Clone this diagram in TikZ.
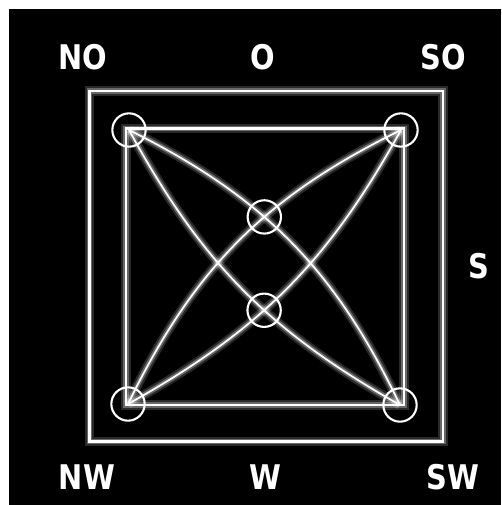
\documentclass[tikz,border=0pt]{standalone}
\usepackage{fontspec}
\newfontfamily\tagfont[FakeStretch=0.85]{DejaVu Sans}
\usetikzlibrary{intersections}

\begin{document}
\begin{tikzpicture}[x=0.03cm, y=-0.03cm,
  ray/.style={draw=white, line width=1.5pt,
    preaction={draw=white, opacity=0.16, line width=8pt},
    preaction={draw=white, opacity=0.30, line width=4.5pt}},
  frame/.style={ray, line width=2.4pt},
  ring/.style={circle, draw=white, line width=1.8pt,
    minimum size=1.0cm, inner sep=0pt},
  tag/.style={text=white, inner sep=0pt,
    font=\tagfont\bfseries\fontsize{29}{29}\selectfont}]
  % Page with a thin white strip at the top and left
  \useasboundingbox (0,0) rectangle (501,505);
  \fill[black] (9,9) rectangle (501,505);
  % Outer and inner squares
  \draw[frame] (89.5,91) rectangle (443,441.5);
  \draw[frame] (126,128.5) rectangle (404,405);
  % Corner rings
  \node[ring] (nw) at (129,130) {};
  \node[ring] (ne) at (401,130) {};
  \node[ring] (sw) at (128,404) {};
  \node[ring] (se) at (400,405) {};
  % Two lenses, one on each diagonal
  \draw[ray, name path=a] (nw.center) to[bend left=19] (se.center);
  \draw[ray, name path=b] (nw.center) to[bend right=16] (se.center);
  \draw[ray, name path=c] (ne.center) to[bend left=16] (sw.center);
  \draw[ray, name path=d] (ne.center) to[bend right=19] (sw.center);
  % Rings where the lenses cross on the middle line
  \path[name intersections={of=a and d, by=hi}];
  \path[name intersections={of=b and c, by=lo}];
  \node[ring] (top) at (hi) {};
  \node[ring] (bottom) at (lo) {};
  % Labels
  \node[tag] (no) at (83,57) {NO};
  \node[tag] (o) at (263,57) {O};
  \node[tag] (so) at (443,57) {SO};
  \node[tag] (s) at (479,266) {S};
  \node[tag] (nwl) at (87,477) {NW};
  \node[tag] (w) at (265,477) {W};
  \node[tag] (swl) at (453,477) {SW};
\end{tikzpicture}
\end{document}
